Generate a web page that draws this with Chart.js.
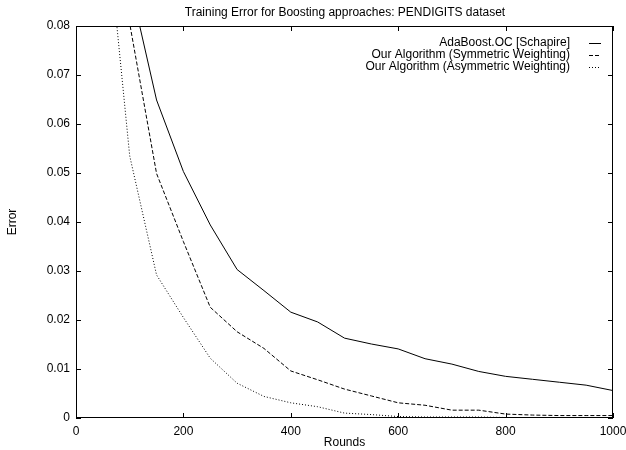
<!DOCTYPE html>
<html>
<head>
<meta charset="utf-8">
<script src="https://cdn.jsdelivr.net/npm/chart.js@4/dist/chart.umd.min.js"></script>
<style>
html,body{margin:0;padding:0;background:#fff;}
#wrap{width:626px;height:450px;position:relative;}
</style>
</head>
<body>
<div id="wrap"><canvas id="c" width="626" height="450"></canvas></div>
<script>
const rounds = [50,100,150,200,250,300,350,400,450,500,550,600,650,700,750,800,850,900,950,1000];
const adaBoost = [0.13,0.089,0.0649,0.0503,0.0394,0.0303,0.0260,0.0216,0.0196,0.0163,0.0151,0.0141,0.0121,0.0110,0.0095,0.0085,0.0079,0.0073,0.0067,0.0056];
const symmetric = [0.12,0.0805,0.0499,0.0360,0.0226,0.0176,0.0142,0.0096,0.0078,0.0059,0.0045,0.0031,0.0026,0.0016,0.0016,0.0008,0.0006,0.0005,0.0005,0.0005];
const asymmetric = [0.109,0.0535,0.0292,0.0205,0.0122,0.0071,0.0044,0.0031,0.0023,0.0010,0.0007,0.0003,0.0002,0.0002,0.0002,0.0001,0.0001,0.0001,0.0001,0.0001];
const seriesNames = ['AdaBoost.OC [Schapire]','Our Algorithm (Symmetric Weighting)','Our Algorithm (Asymmetric Weighting)'];
const xTicks = [0,200,400,600,800,1000];
const yTicks = [0,0.01,0.02,0.03,0.04,0.05,0.06,0.07,0.08];
const yTickLabels = ['0','0.01','0.02','0.03','0.04','0.05','0.06','0.07','0.08'];
const titleText = 'Training Error for Boosting approaches: PENDIGITS dataset';

const FONT = 'Liberation Sans, Arial, Helvetica, sans-serif';
const FS = 12;
const dashes = [[], [4,2], [1,2]];
const allSeries = [adaBoost, symmetric, asymmetric];

const frame = {
  id: 'frame',
  afterDraw(chart) {
    const ctx = chart.ctx, a = chart.chartArea;
    const xs = chart.scales.x, ys = chart.scales.y;
    ctx.save();
    ctx.strokeStyle = '#000';
    ctx.lineWidth = 1;
    ctx.setLineDash([]);
    ctx.strokeRect(Math.round(a.left)+0.5, Math.round(a.top)+0.5, Math.round(a.right-a.left)-1, Math.round(a.bottom-a.top)-1);
    const tl = 5;
    ctx.beginPath();
    xTicks.forEach(v => {
      const px = Math.round(xs.getPixelForValue(v)) + 0.5;
      ctx.moveTo(px, a.bottom); ctx.lineTo(px, a.bottom - tl);
      ctx.moveTo(px, a.top); ctx.lineTo(px, a.top + tl);
    });
    yTicks.forEach(v => {
      const py = Math.round(ys.getPixelForValue(v)) + 0.5;
      ctx.moveTo(a.left, py); ctx.lineTo(a.left + tl, py);
      ctx.moveTo(a.right, py); ctx.lineTo(a.right - tl, py);
    });
    ctx.stroke();
    // title
    ctx.fillStyle = '#000';
    ctx.font = FS + 'px ' + FONT;
    ctx.textAlign = 'center';
    ctx.textBaseline = 'middle';
    ctx.fillText(titleText, (a.left + a.right) / 2 + 0.5, 13);
    // legend
    ctx.textAlign = 'right';
    const textRight = 570, s0 = 589, s1 = 601;
    seriesNames.forEach((n, i) => {
      const y = 43 + i * 12;
      ctx.fillText(n, textRight, y);
      ctx.beginPath();
      ctx.setLineDash(dashes[i]);
      ctx.moveTo(s0, y + 0.5); ctx.lineTo(s1, y + 0.5);
      ctx.stroke();
    });
    ctx.restore();
  }
};

new Chart(document.getElementById('c'), {
  type: 'line',
  data: {
    datasets: allSeries.map((s, i) => ({
      label: seriesNames[i],
      data: rounds.map((r, j) => ({x: r, y: s[j]})),
      borderColor: '#000',
      borderWidth: 1,
      borderDash: dashes[i],
      pointRadius: 0,
      tension: 0,
      fill: false
    }))
  },
  options: {
    responsive: false,
    animation: false,
    devicePixelRatio: 1,
    layout: {padding: {top: 26, right: 13, left: 0, bottom: 0}},
    plugins: {legend: {display: false}, title: {display: false}, tooltip: {enabled: false}},
    scales: {
      x: {
        type: 'linear', min: 0, max: 1000,
        afterBuildTicks: s => { s.ticks = xTicks.map(v => ({value: v})); },
        afterFit: s => { s.height = 32; s.paddingLeft = 0; s.paddingRight = 0; },
        grid: {display: false, drawTicks: false},
        border: {display: false},
        ticks: {color: '#000', font: {family: FONT, size: FS}, padding: 6, maxRotation: 0, callback: v => String(v)},
        title: {display: true, text: 'Rounds', color: '#000', font: {family: FONT, size: FS}, padding: {top: 0, bottom: 0}}
      },
      y: {
        type: 'linear', min: 0, max: 0.08,
        afterBuildTicks: s => { s.ticks = yTicks.map(v => ({value: v})); },
        afterFit: s => { s.width = 76; s.paddingTop = 0; s.paddingBottom = 0; },
        grid: {display: false, drawTicks: false},
        border: {display: false},
        ticks: {color: '#000', font: {family: FONT, size: FS}, padding: 6, callback: (v, i) => yTickLabels[i]},
        title: {display: true, text: 'Error', color: '#000', font: {family: FONT, size: FS}, padding: {top: 5, bottom: 0}}
      }
    }
  },
  plugins: [frame]
});
</script>
</body>
</html>
